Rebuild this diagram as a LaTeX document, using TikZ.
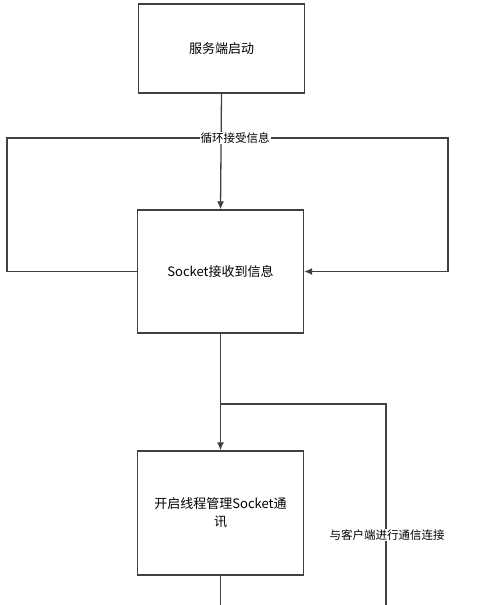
\documentclass[tikz,border=0pt]{standalone}
\usepackage{fontspec}
\setmainfont{Noto Sans CJK SC}
\usepackage{tikz}
\usepackage{xcolor}
\usetikzlibrary{positioning, arrows.meta}
\definecolor{edge}{HTML}{404040}
\tikzset{
  box/.style={draw=edge, line width=1.3pt, minimum width=166pt, align=center,
    font=\fontsize{13}{18}\selectfont},
  flow/.style={draw=edge, line width=1.3pt},
  arr/.style={flow, -{Latex[length=8pt,width=7pt]}},
  lbl/.style={fill=white, inner sep=1pt, font=\fontsize{11.5}{13}\selectfont}
}

\begin{document}
\begin{tikzpicture}[x=1pt, y=-1pt]
\useasboundingbox (0,0) rectangle (477,605);
% the three steps
\node[box, minimum height=89pt] (start) at (221.5,48.5) {服务端启动};
\node[box, minimum height=123pt] (recv) at (220.5,271.5) {Socket接收到信息};
\node[box, minimum height=124pt] (thread) at (220.5,513) {开启线程管理Socket通\\讯};
% free ends of the loops
\coordinate (loopL) at (7,138);
\coordinate (loopR) at (448,138);
\coordinate (join) at (220.5,404);
\coordinate (linkT) at (386,404);
\coordinate (linkB) at (386,605);
\coordinate (down) at (220.5,605);
% connectors
\draw[arr] (start.south) -- (recv.north);
\draw[arr] (recv.west) -| (loopL) -- (loopR) |- (recv.east);
\node[lbl] (loopTxt) at (235,138) {循环接受信息};
\draw[arr] (recv.south) -- (thread.north);
\draw[flow] (thread.south) -- (down);
\draw[flow] (linkB) -- (linkT) -- (join);
\node[lbl] (linkTxt) at (387,535) {与客户端进行通信连接};
\end{tikzpicture}
\end{document}
